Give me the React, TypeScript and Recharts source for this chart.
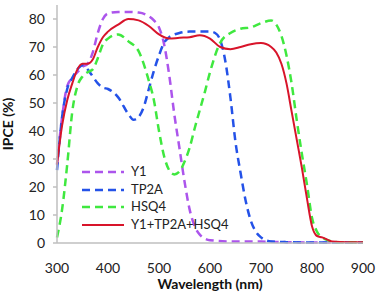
import React from 'react';
import { LineChart, Line, XAxis, YAxis, Legend, Label } from 'recharts';

// wavelength (nm) / IPCE (%) per dye
const y1Nm = [300, 310, 320, 330, 340, 350, 360, 370, 380, 390, 400, 420, 440, 460, 480, 490, 500, 510, 520, 530, 540, 550, 560, 570, 580, 600, 650, 700, 750, 800, 900];
const y1Ipce = [28, 45, 56, 59, 61, 63, 64, 68, 75, 80, 82, 82.5, 82.5, 82.3, 81, 79.5, 77, 71, 60, 46, 34, 22, 12, 6, 3, 1, 0.5, 0.5, 0.3, 0.2, 0.2];

const tp2aNm = [300, 310, 320, 330, 340, 350, 360, 370, 380, 390, 400, 420, 440, 450, 460, 470, 480, 490, 500, 510, 520, 540, 560, 580, 600, 610, 620, 630, 640, 650, 660, 670, 680, 690, 700, 720, 750, 800, 850, 900];
const tp2aIpce = [26, 45, 55, 59, 62, 63.5, 62, 59.5, 57, 55.5, 55, 52, 46, 44, 45, 48.5, 55, 61.5, 67, 71.5, 73.5, 75, 75.5, 75.5, 75.5, 75, 72.5, 65, 52, 36, 25, 15, 8, 4, 2, 0.5, 0.3, 0.2, 0.2, 0.2];

const hsq4Nm = [300, 310, 320, 330, 340, 350, 360, 370, 380, 390, 400, 420, 440, 460, 480, 490, 500, 510, 520, 530, 540, 550, 560, 570, 580, 590, 600, 620, 640, 660, 680, 700, 720, 730, 740, 750, 760, 770, 780, 790, 800, 810, 820, 830, 850, 900];
const hsq4Ipce = [2, 12, 28, 47, 56, 59.5, 61, 62, 66, 71, 73, 74.5, 72, 68.5, 58, 51, 40, 31, 26, 24.5, 25.5, 29, 34, 41, 47.5, 54, 61, 71.5, 75, 76.5, 77, 78.5, 79.5, 78, 74, 67, 57, 44, 32, 21, 9, 4, 2, 1, 0.3, 0.2];

const mixNm = [300, 310, 320, 330, 340, 350, 360, 370, 380, 390, 400, 420, 440, 460, 480, 500, 520, 540, 560, 580, 600, 620, 640, 660, 680, 700, 720, 730, 740, 750, 760, 770, 780, 790, 800, 810, 820, 830, 840, 870, 900];
const mixIpce = [28, 42, 51, 57, 62, 64, 64, 65.5, 70, 73.5, 75.5, 78, 80, 79.5, 77.5, 74.5, 73, 73.3, 73.5, 74.2, 73, 70, 69.2, 70, 71, 71.4, 70, 68, 64, 57, 47, 37, 27, 16, 6, 2.5, 2, 1.2, 0.5, 0.3, 0.3];

const xTicks = [300, 400, 500, 600, 700, 800, 900];
const yTicks = [0, 10, 20, 30, 40, 50, 60, 70, 80];

const toPoints = (nm: number[], v: number[]) => nm.map((x, i) => ({ nm: x, ipce: v[i] }));

const series = [
  { name: 'Y1', data: toPoints(y1Nm, y1Ipce), color: '#ac55ec', dash: '8 5', width: 2.5 },
  { name: 'TP2A', data: toPoints(tp2aNm, tp2aIpce), color: '#2452e8', dash: '8 5', width: 2.5 },
  { name: 'HSQ4', data: toPoints(hsq4Nm, hsq4Ipce), color: '#3fe83f', dash: '8 5', width: 2.5 },
  { name: 'Y1+TP2A+HSQ4', data: toPoints(mixNm, mixIpce), color: '#d8142a', dash: undefined, width: 2 },
];

const LegendBox = () => (
  <div style={{ fontSize: 13, color: '#222', lineHeight: '17.7px' }}>
    {series.map((s) => (
      <div key={s.name} style={{ display: 'flex', alignItems: 'center', height: 17.7 }}>
        <svg width={46} height={6} style={{ marginRight: 3 }}>
          <line x1={0} y1={3} x2={42} y2={3} stroke={s.color} strokeWidth={s.width} strokeDasharray={s.dash} />
        </svg>
        <span>{s.name}</span>
      </div>
    ))}
  </div>
);

export default function App() {
  return (
    <div style={{ position: 'absolute', left: 0, top: 0, fontFamily: 'Lato, sans-serif', background: '#fff' }}>
      <LineChart width={377} height={295} margin={{ top: 5, right: 14, bottom: 0, left: 12 }}>
        <XAxis
          dataKey="nm"
          type="number"
          domain={[300, 900]}
          ticks={xTicks}
          allowDuplicatedCategory={false}
          height={52}
          stroke="#bfbfbf"
          strokeWidth={1.5}
          tickLine={false}
          tickMargin={14}
          tick={{ fill: '#222', fontSize: 14 }}
        >
          <Label value="Wavelength (nm)" position="insideBottom" offset={6} style={{ fontWeight: 700, fontSize: 14, fill: '#111' }} />
        </XAxis>
        <YAxis
          type="number"
          domain={[0, 85]}
          ticks={yTicks}
          width={45}
          stroke="#bfbfbf"
          strokeWidth={1.5}
          tickSize={4}
          tickMargin={8}
          tick={{ fill: '#222', fontSize: 14 }}
        >
          <Label value="IPCE (%)" angle={-90} position="center" dx={-26} style={{ fontWeight: 700, fontSize: 14, fill: '#111' }} />
        </YAxis>
        {series.map((s) => (
          <Line
            key={s.name}
            data={s.data}
            dataKey="ipce"
            name={s.name}
            type="monotone"
            stroke={s.color}
            strokeWidth={s.width}
            strokeDasharray={s.dash}
            dot={false}
            isAnimationActive={false}
          />
        ))}
        <Legend
          layout="vertical"
          align="center"
          verticalAlign="middle"
          content={LegendBox}
          wrapperStyle={{ position: 'absolute', left: 82, top: 163, width: 'auto' }}
        />
      </LineChart>
    </div>
  );
}
